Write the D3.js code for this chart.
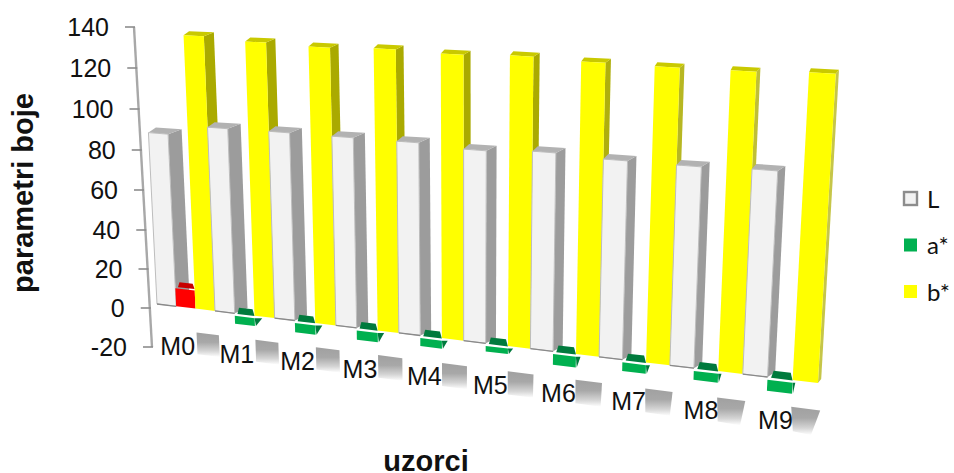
<!DOCTYPE html>
<html><head><meta charset="utf-8">
<script src="https://cdnjs.cloudflare.com/ajax/libs/d3/7.8.5/d3.min.js"></script>
<style>html,body{margin:0;padding:0;background:#fff}svg{display:block}text{font-family:"Liberation Sans",Arial,sans-serif;fill:#111}</style>
</head><body><svg id="c" width="954" height="473"></svg>
<script>
const categories = ["M0","M1","M2","M3","M4","M5","M6","M7","M8","M9"];
const seriesNames = ["L","a*","b*"];
const valuesL = [88,93,93.3,93.3,93.3,92,93.5,92.4,92.3,93.1];
const valuesA = [9.5,-5.4,-6,-6,-5.3,-4,-6.5,-5.4,-5.5,-6.4];
const valuesB = [137,135.7,135,135.9,135.3,136.2,135.3,135,135.2,136.2];
const yTicks = [-20,0,20,40,60,80,100,120,140];

const svg = d3.select("#c");
const defs = svg.append("defs");
const grad = defs.append("linearGradient").attr("id","fade").attr("x1",0).attr("y1",0).attr("x2",0).attr("y2",1);
grad.append("stop").attr("offset",0).attr("stop-color","#a0a0a0");
grad.append("stop").attr("offset",.4).attr("stop-color","#a8a8a8");
grad.append("stop").attr("offset",.75).attr("stop-color","#d4d4d4");
grad.append("stop").attr("offset",1).attr("stop-color","#fff");
defs.append("filter").attr("id","soft").append("feGaussianBlur").attr("stdDeviation",.5);

// scales
const tCat = d3.scaleBand().domain(categories).range([0,10]);
const tSer = d3.scaleBand().domain(seriesNames).range([0,tCat.bandwidth()]);
const uVal = d3.scaleLinear().domain([0,140]).range([0,266]);
const depthL = d3.scaleLinear().domain([0,10]).range([13.5,7]);
const depthB = d3.scaleLinear().domain([0,10]).range([10.5,3]);
const sideB = d3.scaleSequential(d3.interpolateRgb("#aaaa00","#c9c950")).domain([6,10]).clamp(true);
// perspective projection of the front plane (t along categories, v along values)
const H = (t,v) => {
  const u = uVal(v), g = -0.000161*u, w = 1-0.01343*t+g;
  return [(157+55.11*t+g*466)/w,(304+2.76*t+g*6500)/w];
};
const line = d3.line();
const poly = (parent,pts,fill,stroke,sw) => parent.append("path").attr("d",line(pts)+"Z").attr("fill",fill)
  .attr("stroke",stroke||"none").attr("stroke-width",sw||0).attr("stroke-linejoin","round");
const plus = (p,dx,dy) => [p[0]+dx,p[1]+dy];

const marks = svg.append("g").attr("filter","url(#soft)");

// y axis (ticks slightly closer together toward the floor, as the perspective draws them)
const axX = d3.scaleLinear().domain([-20,140]).range([152,134]);
const axY = d3.scaleLinear().domain(yTicks).range([347,308,269,230,190,150,109,68,27]);
marks.append("line").attr("x1",axX(-20)).attr("y1",axY(-20)).attr("x2",axX(140)).attr("y2",axY(140))
  .attr("stroke","#a8a8a8").attr("stroke-width",2.4);
yTicks.forEach(v=>{
  marks.append("line").attr("x1",axX(v)-9).attr("x2",axX(v)+1).attr("y1",axY(v)).attr("y2",axY(v))
    .attr("stroke","#8c8c8c").attr("stroke-width",1.6);
});

// shaded category ticks below the floor
categories.forEach(c=>{
  const t0 = tCat(c)+tSer("b*"), t1 = tCat(c)+tCat.bandwidth()+0.05;
  const k = Math.pow(t0/9.7,6);
  poly(marks,[H(t0,-12.5),H(t1,-12.5),plus(H(t1,-24),-k*8,0),plus(H(t0,-24),k*3,0)],"url(#fade)");
});

const face = {
  "L":{front:"#f2f2f2",side:()=>"#9c9c9c",top:"#b2b2b2",depth:depthL,dy:-5},
  "b*":{front:"#ffff00",side:sideB,top:"#c9c900",depth:depthB,dy:-4}
};
function tallBar(c,s,v){
  const tL = tCat(c)+tSer(s), tR = tL+tSer.bandwidth(), col = face[s], d = col.depth(tL), dy = col.dy;
  const a=H(tL,0),b=H(tR,0),e=H(tR,v),f=H(tL,v);
  poly(marks,[b,plus(b,d,dy),plus(e,d,dy),e],col.side(tL));
  poly(marks,[f,e,plus(e,d,dy),plus(f,d*.55,dy)],col.top);
  poly(marks,[a,b,e,f],col.front,s==="L"?"#bdbdbd":"none",s==="L"?1:0);
  if(s==="L") marks.append("line").attr("x1",a[0]).attr("y1",a[1]).attr("x2",b[0]).attr("y2",b[1])
    .attr("stroke","#8a8a8a").attr("stroke-width",1.3);
}
function smallBar(c,v){
  const tL = tCat(c)+tSer("a*"), tR = tL+tSer.bandwidth(), d = depthB(tL);
  const pos = v>0, front = pos?"#ff0000":"#00b050", dark = pos?"#c80000":"#067a3c";
  const inset = tL+tSer.bandwidth()*.14;
  const topV = pos?v:-1.3;
  const lowV = pos?0:v;
  poly(marks,[H(tR,topV),plus(H(tR,topV),d*.8,0),plus(H(tR,lowV),1,0)],dark);
  const roofLow = pos?v+.7:-.2, roofHigh = pos?v+3.4:3.2;
  poly(marks,[H(inset,roofLow),H(tR,roofLow),H(tR-.03,roofHigh),H(inset+.03,roofHigh)],dark);
  poly(marks,[H(tL,lowV),H(tR,lowV),H(tR,topV),H(tL,topV)],front);
}
categories.forEach((c,i)=>{
  tallBar(c,"L",valuesL[i]);
  smallBar(c,valuesA[i]);
  tallBar(c,"b*",valuesB[i]);
});

// y tick labels
yTicks.forEach(v=>{
  svg.append("text").attr("x",axX(v)-25).attr("y",axY(v)).attr("dy","0.35em")
    .attr("text-anchor","end").attr("font-size",25).text(v);
});
// category labels
const labelFrac = d3.scaleLinear().domain([0,9]).range([.33,.467]);
const labelDrop = d3.scaleLinear().domain([0,9]).range([3.5,0]);
categories.forEach((c,i)=>{
  const p = H(tCat(c)+tCat.bandwidth()*labelFrac(i),-19.5);
  svg.append("text").attr("x",p[0]).attr("y",p[1]+labelDrop(i)).attr("dy","0.35em")
    .attr("text-anchor","middle").attr("font-size",25).text(c);
});
// axis titles
svg.append("text").attr("transform","translate(33,193) rotate(-90)")
  .attr("text-anchor","middle").attr("font-size",29).attr("font-weight","bold").text("parametri boje");
svg.append("text").attr("x",426).attr("y",471).attr("text-anchor","middle")
  .attr("font-size",29).attr("font-weight","bold").text("uzorci");

// legend
const legY = d3.scalePoint().domain(seriesNames).range([198.5,291.5]);
const legFill = {"L":"#f2f2f2","a*":"#00b050","b*":"#ffff00"};
seriesNames.forEach(s=>{
  const y = legY(s);
  svg.append("rect").attr("x",904).attr("y",y-6.5).attr("width",13).attr("height",13)
    .attr("fill",legFill[s]).attr("stroke",s==="L"?"#8c8c8c":"none").attr("stroke-width",2.4);
  svg.append("text").attr("x",927).attr("y",y+1).attr("dy","0.35em").attr("font-size",24)
    .style("font-family","Lato,Carlito,sans-serif").text(s);
});
</script></body></html>
